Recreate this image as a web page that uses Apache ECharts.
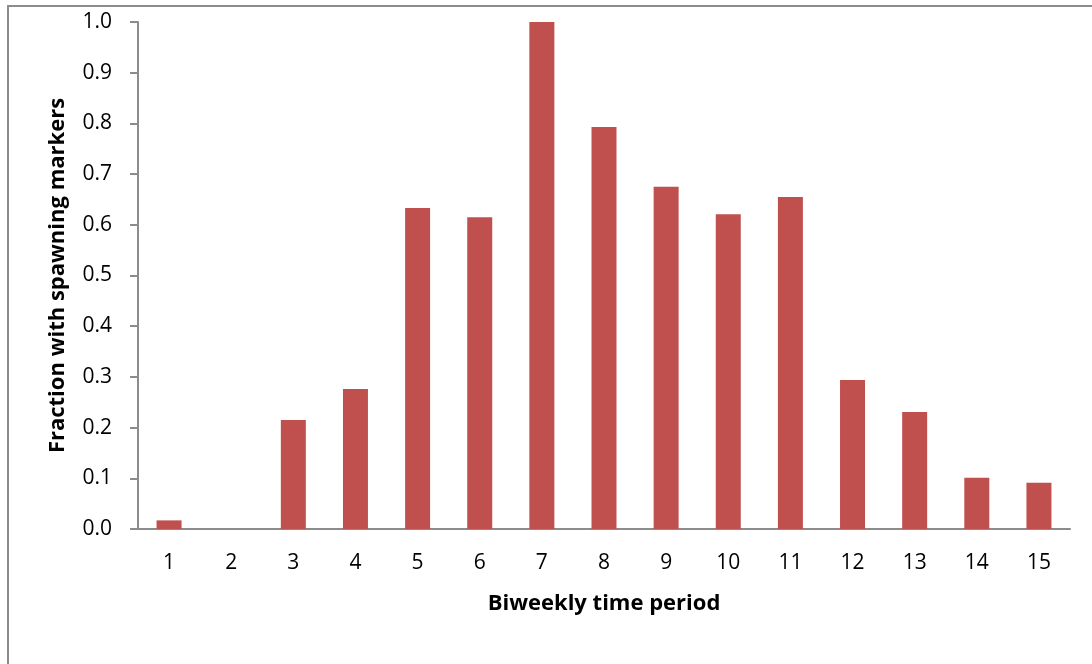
<!DOCTYPE html>
<html><head><meta charset="utf-8">
<script src="https://cdn.jsdelivr.net/npm/echarts@6/dist/echarts.min.js"></script>
<style>html,body{margin:0;padding:0;background:#fff}#c{width:1092px;height:664px}</style>
</head><body><div id="c"></div>
<script>
const categories = ['1','2','3','4','5','6','7','8','9','10','11','12','13','14','15'];
const fractions = [0.017,0,0.215,0.276,0.633,0.615,1.0,0.793,0.675,0.621,0.655,0.294,0.231,0.101,0.091];
const yAxisTitle = 'Fraction with spawning markers';
const xAxisTitle = 'Biweekly time period';

const FONT = 'Open Sans';
const chart = echarts.init(document.getElementById('c'));
chart.setOption({
  animation:false,
  backgroundColor:'#fff',
  textStyle:{fontFamily:FONT},
  graphic:[{type:'rect',shape:{x:8,y:6,width:1300,height:900},style:{fill:'none',stroke:'#8c8c8c',lineWidth:2},silent:true}],
  grid:{left:138,top:22,right:22,bottom:135,containLabel:false},
  xAxis:{type:'category',data:categories,
    axisLine:{lineStyle:{color:'#8c8c8c',width:2}},
    axisTick:{show:false},
    axisLabel:{color:'#000',fontSize:21,margin:24,fontFamily:FONT},
    name:xAxisTitle,nameLocation:'middle',nameGap:64,
    nameTextStyle:{color:'#000',fontSize:22,fontWeight:'bold',fontFamily:FONT}},
  yAxis:{type:'value',min:0,max:1,interval:0.1,
    axisLine:{show:true,lineStyle:{color:'#8c8c8c',width:2}},
    axisTick:{show:true,length:8,lineStyle:{color:'#8c8c8c',width:2}},
    splitLine:{show:false},
    axisLabel:{color:'#000',fontSize:21,margin:26,fontFamily:FONT,formatter:v=>v.toFixed(1)},
    name:yAxisTitle,nameLocation:'middle',nameGap:69,nameRotate:90,
    nameTextStyle:{color:'#000',fontSize:22,fontWeight:'bold',fontFamily:FONT}},
  series:[{type:'bar',data:fractions,barWidth:25,
    itemStyle:{color:'#C0504D'}}]
});
</script></body></html>
